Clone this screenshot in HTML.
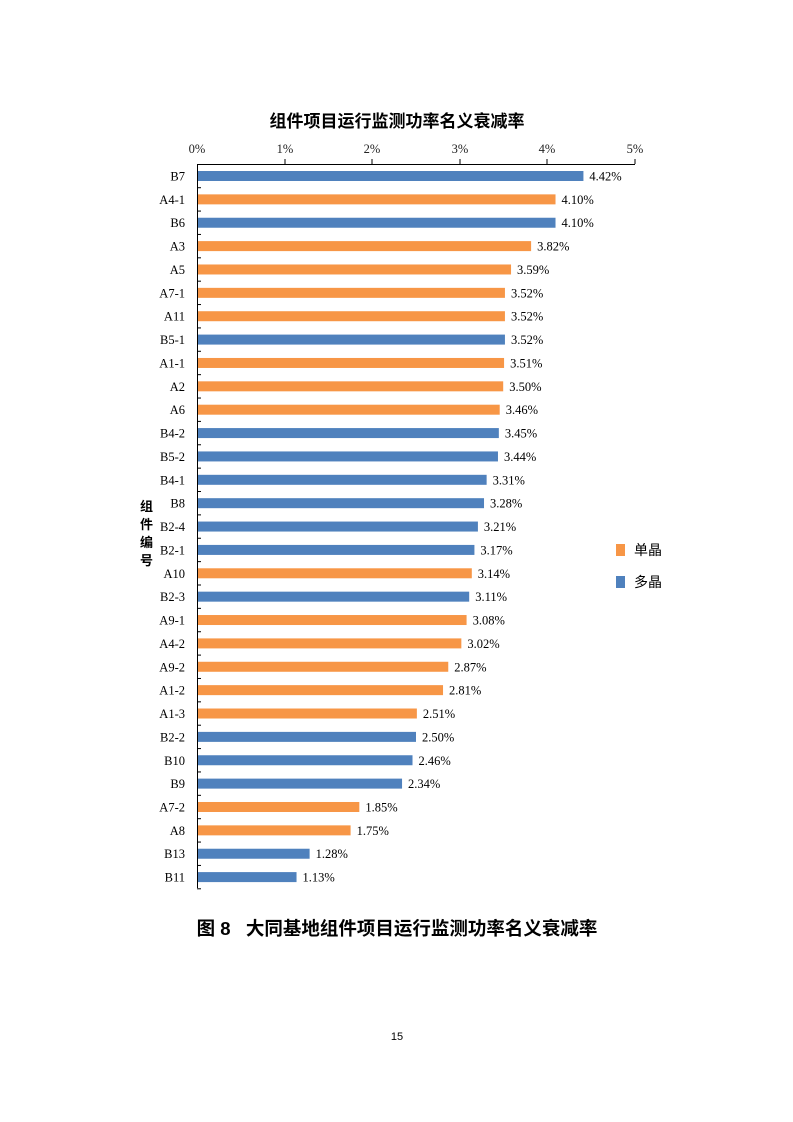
<!DOCTYPE html><html><head><meta charset="utf-8"><style>body{margin:0;background:#fff}svg{display:block}</style></head><body>
<svg width="793" height="1122" xmlns="http://www.w3.org/2000/svg" font-family="Liberation Serif, serif">
<text x="397" y="127" text-anchor="middle" font-family="Liberation Sans, Noto Sans CJK SC, sans-serif" font-weight="bold" font-size="17" fill="#000">组件项目运行监测功率名义衰减率</text>
<g font-size="12.5" text-anchor="middle" fill="#222">
<text x="197" y="153">0%</text><text x="285" y="153">1%</text><text x="372" y="153">2%</text><text x="460" y="153">3%</text><text x="547" y="153">4%</text><text x="635" y="153">5%</text></g>
<g stroke="#000" stroke-width="1"><line x1="197" y1="164.5" x2="635" y2="164.5"/><line x1="197.5" y1="164" x2="197.5" y2="888"/>
<line x1="285" y1="164" x2="285" y2="159"/><line x1="372" y1="164" x2="372" y2="159"/><line x1="460" y1="164" x2="460" y2="159"/><line x1="547" y1="164" x2="547" y2="159"/><line x1="635" y1="164" x2="635" y2="159"/></g>
<g id="bars" font-size="12.5" fill="#000"></g>
<text font-family="Liberation Sans, Noto Sans CJK SC, sans-serif" font-weight="bold" font-size="13" fill="#000"><tspan x="140" y="511">组</tspan><tspan x="140" y="529">件</tspan><tspan x="140" y="547">编</tspan><tspan x="140" y="565">号</tspan></text>
<rect x="616" y="544" width="9" height="12" fill="#f79646"/><text x="634" y="555" font-family="Liberation Sans, Noto Sans CJK SC, sans-serif" font-size="14">单晶</text>
<rect x="616" y="576" width="9" height="12" fill="#4f81bd"/><text x="634" y="587" font-family="Liberation Sans, Noto Sans CJK SC, sans-serif" font-size="14">多晶</text>
<text x="397" y="935" text-anchor="middle" font-family="Liberation Sans, Noto Sans CJK SC, sans-serif" font-weight="bold" font-size="18.5" xml:space="preserve">图 8   大同基地组件项目运行监测功率名义衰减率</text>
<text x="397" y="1040" text-anchor="middle" font-family="Liberation Sans, sans-serif" font-size="11">15</text>
</svg>
<script>
var d=[["B7",4.42,1],["A4-1",4.10,0],["B6",4.10,1],["A3",3.82,0],["A5",3.59,0],["A7-1",3.52,0],["A11",3.52,0],["B5-1",3.52,1],["A1-1",3.51,0],["A2",3.50,0],["A6",3.46,0],["B4-2",3.45,1],["B5-2",3.44,1],["B4-1",3.31,1],["B8",3.28,1],["B2-4",3.21,1],["B2-1",3.17,1],["A10",3.14,0],["B2-3",3.11,1],["A9-1",3.08,0],["A4-2",3.02,0],["A9-2",2.87,0],["A1-2",2.81,0],["A1-3",2.51,0],["B2-2",2.50,1],["B10",2.46,1],["B9",2.34,1],["A7-2",1.85,0],["A8",1.75,0],["B13",1.28,1],["B11",1.13,1]];
var g=document.getElementById("bars"),s="";
d.forEach(function(r,i){var c=176+i*23.37,w=r[1]*87.2;
s+='<rect x="198" y="'+(c-5)+'" width="'+w+'" height="10" fill="'+(r[2]?"#4f81bd":"#f79646")+'"/>';
s+='<text x="185" y="'+(c+4.5)+'" text-anchor="end">'+r[0]+'</text>';
s+='<text x="'+(198+w+6)+'" y="'+(c+4.5)+'">'+r[1].toFixed(2)+'%</text>';
s+='<line x1="197" x2="201" y1="'+(c+11.7)+'" y2="'+(c+11.7)+'" stroke="#000"/>';});
g.innerHTML=s;
</script></body></html>
